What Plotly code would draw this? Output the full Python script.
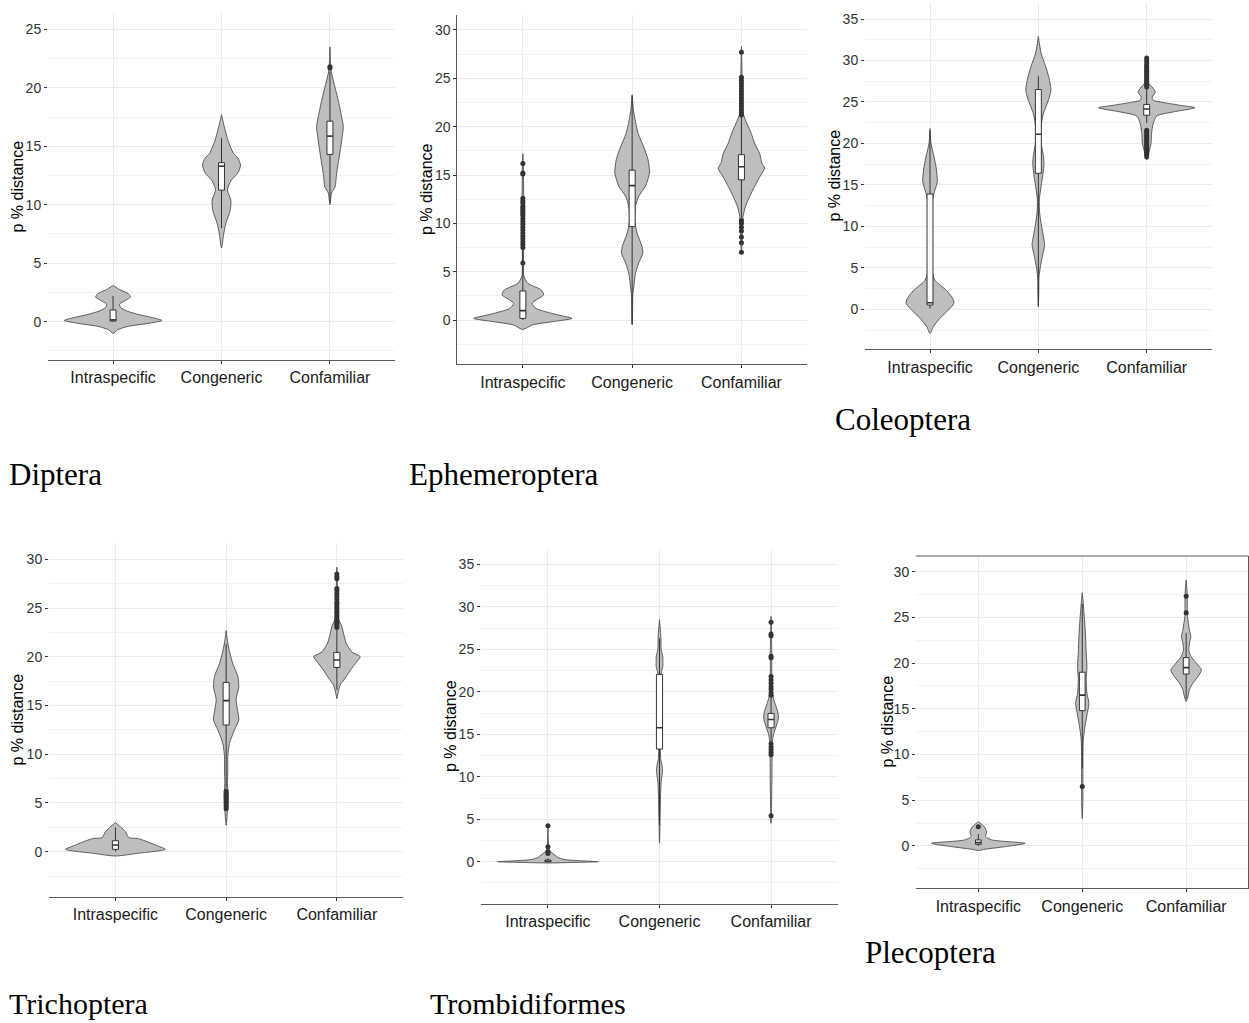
import plotly.graph_objects as go

W, H = 1249, 1023

CATEGORIES = ["Intraspecific", "Congeneric", "Confamiliar"]
Y_TITLE = "p % distance"

# ---------------- Diptera ----------------
DIPTERA_INTRA = [(-1.0, 0), (-0.7, 0.04), (-0.4, 0.14), (-0.15, 0.32), (0.1, 0.45), (0.35, 0.36),
                 (0.6, 0.24), (0.9, 0.13), (1.2, 0.07), (1.5, 0.06), (1.8, 0.11), (2.1, 0.16),
                 (2.4, 0.14), (2.7, 0.07), (3.1, 0)]
DIPTERA_CONG = [(6.3, 0), (7.5, 0.02), (8.4, 0.04), (9.5, 0.08), (10.4, 0.086), (11.25, 0.055),
                (12.1, 0.09), (12.7, 0.15), (13.4, 0.175), (14.0, 0.15), (14.4, 0.11), (15.5, 0.06),
                (16.7, 0.025), (17.7, 0)]
DIPTERA_CONF = [(10.0, 0), (11.0, 0.015), (11.5, 0.046), (12.7, 0.062), (14.1, 0.086), (15.5, 0.108),
                (16.7, 0.123), (17.5, 0.108), (18.9, 0.077), (20.4, 0.037), (21.5, 0.01), (23.5, 0)]
# [lower whisker, q1, median, q3, upper whisker]
DIPTERA_BOX = [[0.0, 0.05, 0.15, 1.0, 2.2], [8.0, 11.25, 13.3, 13.6, 15.7], [10.2, 14.3, 15.87, 17.15, 21.4]]
DIPTERA_OUT = [[], [], [21.7, 21.8]]

# ---------------- Ephemeroptera ----------------
EPHEM_INTRA = [(-0.97, 0), (-0.5, 0.09), (-0.17, 0.27), (0.17, 0.45), (0.45, 0.35), (0.7, 0.26),
               (1.2, 0.12), (1.7, 0.085), (2.07, 0.12), (2.6, 0.19), (3.1, 0.17), (3.8, 0.045),
               (4.5, 0.01), (6.0, 0.005), (10.0, 0.008), (11.3, 0.015), (12.6, 0.008), (16.2, 0.004), (17.2, 0)]
EPHEM_CONG = [(-0.5, 0), (1.0, 0.004), (2.6, 0.006), (3.4, 0.015), (4.8, 0.03), (5.9, 0.06), (6.9, 0.097),
              (7.6, 0.09), (9.0, 0.045), (10.3, 0.024), (11.7, 0.03), (12.8, 0.06), (13.8, 0.12),
              (15.2, 0.158), (16.6, 0.145), (17.9, 0.106), (19.3, 0.055), (20.9, 0.024), (21.7, 0.012), (23.3, 0)]
EPHEM_CONF = [(6.9, 0), (8.0, 0.005), (9.3, 0.009), (10.7, 0.015), (11.7, 0.036), (12.8, 0.076),
              (13.8, 0.12), (14.8, 0.167), (15.7, 0.212), (16.2, 0.188), (17.2, 0.167), (18.3, 0.12),
              (19.3, 0.09), (20.7, 0.036), (21.4, 0.015), (23.0, 0.008), (25.2, 0.006), (28.3, 0)]
EPHEM_BOX = [[0.0, 0.17, 0.97, 3.0, 7.2], [-0.4, 9.66, 13.9, 15.5, 23.2], [10.6, 14.5, 15.86, 17.1, 21.0]]
EPHEM_OUT = [[5.9, 7.5, 7.8, 8.1, 8.4, 8.7, 9.0, 9.3, 9.6, 9.9, 10.2, 10.5, 10.8, 11.0, 11.2, 11.4,
              11.6, 11.8, 12.1, 12.3, 12.6, 15.1, 15.2, 16.2],
             [],
             [21.2, 21.5, 21.8, 22.1, 22.4, 22.7, 23.0, 23.3, 23.6, 23.9, 24.2, 24.5, 24.8, 25.1, 27.7,
              10.3, 10.0, 9.6, 9.2, 8.6, 8.0, 7.0]]

# ---------------- Coleoptera ----------------
COLEO_INTRA = [(-2.9, 0), (-2.1, 0.03), (-1.1, 0.09), (-0.08, 0.17), (0.7, 0.22), (1.3, 0.21), (2.3, 0.15),
               (3.5, 0.046), (5.1, 0.012), (9.2, 0.006), (12.4, 0.012), (14.0, 0.037), (15.4, 0.067),
               (17.2, 0.055), (18.8, 0.03), (20.0, 0.009), (21.8, 0)]
COLEO_CONG = [(0.3, 0), (2.0, 0.004), (3.9, 0.006), (5.1, 0.018), (6.4, 0.037), (7.8, 0.058), (8.8, 0.046),
              (10.0, 0.03), (11.6, 0.012), (13.2, 0.009), (14.8, 0.025), (16.4, 0.043), (17.6, 0.052),
              (18.8, 0.043), (20.4, 0.021), (22.0, 0.025), (23.6, 0.046), (25.2, 0.092), (26.4, 0.116),
              (27.9, 0.098), (29.3, 0.067), (30.9, 0.025), (32.9, 0)]
COLEO_CONF = [(18.0, 0), (18.4, 0.009), (19.2, 0.025), (20.0, 0.04), (21.2, 0.045), (22.4, 0.06),
              (23.3, 0.092), (23.8, 0.245), (24.3, 0.444), (24.6, 0.306), (25.0, 0.123), (25.2, 0.06),
              (25.6, 0.05), (26.2, 0.08), (26.8, 0.05), (27.3, 0.015), (28.5, 0.008), (30.5, 0)]
COLEO_BOX = [[0.1, 0.52, 0.8, 13.9, 21.5], [0.4, 16.4, 21.1, 26.5, 28.1], [22.45, 23.4, 24.15, 24.7, 26.6]]
COLEO_OUT = [[], [],
             [26.8, 27.0, 27.2, 27.4, 27.6, 27.8, 28.0, 28.2, 28.4, 28.6, 28.8, 29.0, 29.2, 29.4, 29.7, 30.0, 30.3,
              18.4, 18.6, 18.8, 19.0, 19.2, 19.4, 19.6, 19.8, 20.0, 20.2, 20.4, 20.6, 20.8, 21.0, 21.2, 21.4, 21.6]]

# ---------------- Trichoptera ----------------
TRICH_INTRA = [(-0.44, 0), (-0.17, 0.2), (0.24, 0.45), (0.68, 0.36), (1.1, 0.27), (1.35, 0.2),
               (1.45, 0.12), (2.05, 0.09), (2.56, 0.045), (2.98, 0)]
TRICH_CONG = [(2.7, 0), (4.3, 0.012), (5.6, 0.018), (7.0, 0.012), (8.4, 0.015), (9.75, 0.015), (11.1, 0.03),
              (12.5, 0.075), (13.5, 0.114), (14.4, 0.105), (15.6, 0.09), (16.9, 0.114), (18.0, 0.105),
              (19.3, 0.06), (20.3, 0.036), (21.4, 0.015), (22.7, 0)]
TRICH_CONF = [(15.7, 0), (16.2, 0.009), (17.1, 0.03), (17.8, 0.075), (18.6, 0.12), (19.5, 0.18), (20.0, 0.21),
              (20.5, 0.135), (21.4, 0.084), (22.4, 0.06), (23.1, 0.045), (24.0, 0.012), (26.0, 0.008), (29.2, 0)]
TRICH_BOX = [[0.0, 0.24, 0.68, 1.13, 2.5], [6.5, 13.0, 15.5, 17.37, 21.3], [16.6, 18.9, 19.67, 20.45, 22.8]]
TRICH_OUT = [[], [4.4, 4.6, 4.8, 5.0, 5.2, 5.4, 5.6, 5.8, 6.0, 6.2],
             [23.0, 23.2, 23.4, 23.6, 23.8, 24.0, 24.2, 24.4, 24.6, 24.8, 25.0, 25.2, 25.4, 25.6, 25.9,
              26.2, 26.5, 26.8, 27.0, 28.0, 28.2, 28.5]]

# ---------------- Trombidiformes ----------------
TROMB_INTRA = [(-0.15, 0), (-0.08, 0.25), (0.0, 0.45), (0.1, 0.3), (0.25, 0.15), (0.5, 0.09), (0.8, 0.06),
               (1.1, 0.03), (1.5, 0.01), (4.3, 0)]
TROMB_CONG = [(2.2, 0), (4.3, 0.004), (7.6, 0.009), (9.5, 0.015), (10.0, 0.021), (10.8, 0.027), (11.5, 0.02),
              (12.0, 0.012), (13.5, 0.006), (15.5, 0.006), (18.0, 0.006), (21.0, 0.01), (22.2, 0.015),
              (23.0, 0.03), (23.6, 0.03), (24.1, 0.03), (25.0, 0.015), (26.5, 0.012), (28.5, 0)]
TROMB_CONF = [(4.5, 0), (8.0, 0.006), (12.6, 0.009), (13.9, 0.009), (14.5, 0.015), (15.1, 0.024), (15.9, 0.045),
              (16.87, 0.066), (17.65, 0.06), (18.6, 0.036), (19.4, 0.018), (21.0, 0.008), (25.0, 0.006), (28.9, 0)]
TROMB_BOX = [[0.0, 0.0, 0.05, 0.2, 0.4], [4.3, 13.26, 15.77, 22.05, 26.3], [14.2, 15.77, 16.75, 17.46, 19.3]]
TROMB_OUT = [[0.98, 1.18, 1.77, 4.24], [],
             [28.2, 26.8, 26.6, 24.2, 24.0, 21.8, 21.4, 21.0, 20.6, 20.3, 19.9, 19.6,
              13.9, 13.5, 13.2, 12.9, 12.6, 5.4]]

# ---------------- Plecoptera ----------------
PLECO_INTRA = [(-0.5, 0), (-0.36, 0.064), (-0.07, 0.26), (0.29, 0.45), (0.66, 0.13), (1.02, 0.07),
               (1.57, 0.08), (2.1, 0.058), (2.66, 0)]
PLECO_CONG = [(3.0, 0), (5.0, 0.006), (7.9, 0.006), (11.6, 0.01), (13.05, 0.026), (14.5, 0.048), (15.6, 0.064),
              (16.7, 0.045), (18.2, 0.038), (19.6, 0.045), (21.1, 0.038), (22.9, 0.032), (24.7, 0.022),
              (26.5, 0.01), (27.7, 0)]
PLECO_CONF = [(15.8, 0), (16.3, 0.016), (17.1, 0.032), (17.8, 0.064), (18.5, 0.112), (19.25, 0.147),
              (19.8, 0.112), (20.7, 0.048), (21.4, 0.026), (22.2, 0.032), (22.9, 0.045), (23.6, 0.032),
              (25.1, 0.013), (27.6, 0.01), (29.1, 0)]
PLECO_BOX = [[0.0, 0.18, 0.36, 0.66, 1.3], [8.5, 14.8, 16.5, 19.0, 26.5], [16.1, 18.8, 19.5, 20.6, 23.3]]
PLECO_OUT = [[2.1], [6.5], [25.5, 27.3]]

PANEL_NAMES = ["Diptera", "Ephemeroptera", "Coleoptera", "Trichoptera", "Trombidiformes", "Plecoptera"]
PANEL_PROFILES = [
    [DIPTERA_INTRA, DIPTERA_CONG, DIPTERA_CONF],
    [EPHEM_INTRA, EPHEM_CONG, EPHEM_CONF],
    [COLEO_INTRA, COLEO_CONG, COLEO_CONF],
    [TRICH_INTRA, TRICH_CONG, TRICH_CONF],
    [TROMB_INTRA, TROMB_CONG, TROMB_CONF],
    [PLECO_INTRA, PLECO_CONG, PLECO_CONF],
]
PANEL_BOXES = [DIPTERA_BOX, EPHEM_BOX, COLEO_BOX, TRICH_BOX, TROMB_BOX, PLECO_BOX]
PANEL_OUTLIERS = [DIPTERA_OUT, EPHEM_OUT, COLEO_OUT, TRICH_OUT, TROMB_OUT, PLECO_OUT]
PANEL_YRANGE = [[-3.28, 26.4], [-4.58, 31.55], [-4.82, 36.93], [-4.62, 31.64], [-4.98, 36.9], [-4.63, 31.71]]

# ---------------- layout geometry (pixels) ----------------
PANEL_BOX_PX = [  # left, right, top, bottom
    (48, 395, 13, 360),
    (457.3, 807, 15, 364.3),
    (865, 1211.7, 3, 349.3),
    (49, 403.3, 543.3, 896.7),
    (481, 838, 548.3, 904),
    (916, 1248.5, 556, 888.3),
]
YTITLE_PX = [(17, 186.5), (426.5, 189.6), (833.5, 176), (16.5, 720), (450, 726), (886.5, 722)]
CAPTION_PX = [(7, 474), (407, 474), (833, 419), (7, 1003), (428, 1003), (863, 952)]
CAPTION_SIZE = [31, 31, 31, 30, 30, 31]
LEFT_LINE = [False, True, False, False, False, False]

FILL = "#BEBEBE"
OUTLINE = "#4D4D4D"
DARK = "#333333"
BOX_HALF = 0.0275


def px_x(v):
    return v / W


def px_y(v):
    return 1 - v / H


fig = go.Figure()
annotations = []
shapes = []

for k in range(6):
    ax = "" if k == 0 else str(k + 1)
    xref, yref = "x" + ax, "y" + ax
    common = dict(xaxis=xref, yaxis=yref, showlegend=False, hoverinfo="skip")
    for i, prof in enumerate(PANEL_PROFILES[k]):
        ys = [p[0] for p in prof]
        ws = [p[1] for p in prof]
        xs = [i + w for w in ws] + [i - w for w in ws[::-1]]
        yy = ys + ys[::-1]
        # violin body
        fig.add_trace(go.Scatter(x=xs, y=yy, mode="lines", fill="toself", fillcolor=FILL,
                                 line=dict(color=OUTLINE, width=0.9, shape="spline", smoothing=0.7),
                                 **common))
        lf, q1, med, q3, uf = PANEL_BOXES[k][i]
        # whiskers
        fig.add_trace(go.Scatter(x=[i, i, None, i, i], y=[lf, q1, None, q3, uf], mode="lines",
                                 line=dict(color=DARK, width=1), **common))
        # box
        fig.add_trace(go.Scatter(x=[i - BOX_HALF, i + BOX_HALF, i + BOX_HALF, i - BOX_HALF, i - BOX_HALF],
                                 y=[q1, q1, q3, q3, q1], mode="lines", fill="toself", fillcolor="white",
                                 line=dict(color=DARK, width=1), **common))
        # median
        fig.add_trace(go.Scatter(x=[i - BOX_HALF, i + BOX_HALF], y=[med, med], mode="lines",
                                 line=dict(color=DARK, width=1.6), **common))
        outs = PANEL_OUTLIERS[k][i]
        if outs:
            fig.add_trace(go.Scatter(x=[i] * len(outs), y=outs, mode="markers",
                                     marker=dict(color=DARK, size=5), **common))

    l, r, t, b = PANEL_BOX_PX[k]
    fig.update_layout(**{
        "xaxis" + ax: dict(domain=[px_x(l), px_x(r)], range=[-0.6, 2.6], anchor=yref,
                           tickmode="array", tickvals=[0, 1, 2], ticktext=CATEGORIES,
                           showgrid=True, gridcolor="#EBEBEB", gridwidth=1, zeroline=False,
                           showline=True, linecolor="#595959", linewidth=1,
                           ticks="outside", ticklen=3, tickcolor=DARK,
                           tickfont=dict(family="Liberation Sans, Arial", size=16, color="#1A1A1A")),
        "yaxis" + ax: dict(domain=[px_y(b), px_y(t)], range=PANEL_YRANGE[k], anchor=xref,
                           tickmode="linear", tick0=0, dtick=5,
                           showgrid=True, gridcolor="#EBEBEB", gridwidth=1, zeroline=False,
                           minor=dict(dtick=2.5, tick0=0, showgrid=True, gridcolor="#F2F2F2", gridwidth=1),
                           showline=LEFT_LINE[k], linecolor="#595959", linewidth=1,
                           ticks="outside", ticklen=3, tickcolor=DARK,
                           tickfont=dict(family="Liberation Sans, Arial", size=14, color=DARK)),
    })
    tx, ty = YTITLE_PX[k]
    annotations.append(dict(text=Y_TITLE, x=px_x(tx), y=px_y(ty), xref="paper", yref="paper",
                            textangle=-90, showarrow=False, xanchor="center", yanchor="middle",
                            font=dict(family="Liberation Sans, Arial", size=16, color="#000000")))
    cx, cy = CAPTION_PX[k]
    annotations.append(dict(text=PANEL_NAMES[k], x=px_x(cx), y=px_y(cy), xref="paper", yref="paper",
                            showarrow=False, xanchor="left", yanchor="middle",
                            font=dict(family="Liberation Serif, Times New Roman", size=CAPTION_SIZE[k],
                                      color="#000000")))

# Plecoptera panel frame (top and right edges)
l, r, t, b = PANEL_BOX_PX[5]
shapes.append(dict(type="line", xref="paper", yref="paper", x0=px_x(l), x1=px_x(r),
                   y0=px_y(t), y1=px_y(t), line=dict(color="#595959", width=1)))
shapes.append(dict(type="line", xref="paper", yref="paper", x0=px_x(r), x1=px_x(r),
                   y0=px_y(t), y1=px_y(b), line=dict(color="#595959", width=1)))

fig.update_layout(width=W, height=H, margin=dict(l=0, r=0, t=0, b=0),
                  paper_bgcolor="white", plot_bgcolor="white",
                  annotations=annotations, shapes=shapes, showlegend=False)

fig.write_html("out.html", config={"displayModeBar": False},
               post_script="document.body.style.margin='0px';document.body.style.overflow='hidden';")
